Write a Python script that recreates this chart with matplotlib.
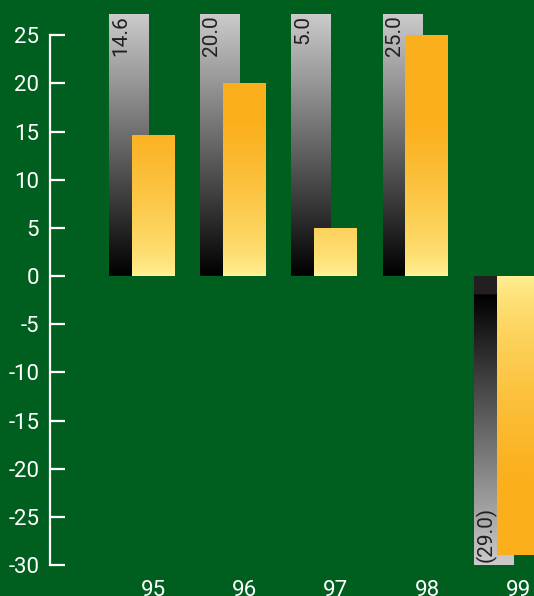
import numpy as np
import matplotlib
matplotlib.use("Agg")
import matplotlib.pyplot as plt
from matplotlib.colors import to_rgb

plt.rcParams['axes.unicode_minus'] = False

# ---- data ----
categories = ["95", "96", "97", "98", "99"]
values = [14.6, 20.0, 5.0, 25.0, -29.0]
yticks = list(range(-30, 26, 5))

# ---- style ----
BG = "#005F1F"
ORANGE = to_rgb("#FBAF1C")
YELLOW = to_rgb("#FFF59B")
LIGHTGRAY = 0.80
YMIN, YMAX = -30, 27.2
XMIN, XMAX = -1.135, 4.175

fig = plt.figure(figsize=(5.34, 5.96), dpi=100)
fig.patch.set_facecolor(BG)
ax = fig.add_axes([50.3 / 534, 31 / 596, 1 - 50.3 / 534, (565 - 14) / 596])
ax.set_facecolor(BG)

x = np.arange(len(categories))
gray_off, gray_w = -0.488, 0.439
org_off, org_w = -0.236, 0.472

# background (gray) bars: from 0 to the axis limit in the sign direction
gray_tops = [YMAX if v >= 0 else YMIN for v in values]
gbars = ax.bar(x + gray_off, gray_tops, width=gray_w, align='edge',
               facecolor='none', edgecolor='none', zorder=2)
obars = ax.bar(x + org_off, values, width=org_w, align='edge',
               facecolor='none', edgecolor='none', zorder=3)

# gradient images in data coordinates
ys = np.linspace(YMAX, YMIN, 800)
g = np.zeros((len(ys), 1, 3))
for i, yv in enumerate(ys):
    if yv >= 0:
        g[i, 0, :] = LIGHTGRAY * yv / YMAX
    elif yv > -1.9:
        g[i, 0, :] = to_rgb("#231F20")
    else:
        g[i, 0, :] = LIGHTGRAY * (abs(yv) - 1.9) / (abs(YMIN) - 1.9)
o = np.zeros((len(ys), 1, 3))
for i, yv in enumerate(ys):
    scale = 16.0 if yv >= 0 else 21.0
    f = min(1.0, abs(yv) / scale) ** 0.6
    o[i, 0, :] = np.array(YELLOW) * (1 - f) + np.array(ORANGE) * f

for p in gbars.patches:
    im = ax.imshow(g, extent=[XMIN, XMAX, YMIN, YMAX], aspect='auto',
                   interpolation='bilinear', zorder=2)
    im.set_clip_path(p)
for p in obars.patches:
    im = ax.imshow(o, extent=[XMIN, XMAX, YMIN, YMAX], aspect='auto',
                   interpolation='bilinear', zorder=3)
    im.set_clip_path(p)

# value labels on gray bars
lab_font = ['Liberation Sans Narrow', 'Roboto', 'DejaVu Sans']
for xi, v in zip(x, values):
    if v >= 0:
        ax.annotate(f"{v:.1f}", xy=(xi + gray_off, YMAX), xytext=(2, -1),
                    textcoords='offset pixels', rotation=90, ha='left', va='top',
                    fontsize=15, color='#231F20', family=lab_font, zorder=4)
    else:
        ax.annotate(f"({abs(v):.1f})", xy=(xi + gray_off, YMIN), xytext=(2, 3),
                    textcoords='offset pixels', rotation=90, ha='left', va='bottom',
                    fontsize=15, color='#231F20', family=lab_font, zorder=4)

ax.set_xlim(XMIN, XMAX)
ax.set_ylim(YMIN, YMAX)

for s in ['top', 'right', 'bottom']:
    ax.spines[s].set_visible(False)
ax.spines['left'].set_color('white')
ax.spines['left'].set_linewidth(1.6)
ax.spines['left'].set_bounds(-30, 25)

ax.set_yticks(yticks)
ax.set_yticklabels([str(t) for t in yticks])
ax.set_xticks(x)
ax.set_xticklabels(categories)
ax.tick_params(axis='y', direction='in', length=11, width=1.6, color='white',
               labelcolor='white', labelsize=16, pad=8)
ax.tick_params(axis='x', length=0, labelcolor='white', labelsize=16, pad=11)
for lbl in ax.get_xticklabels() + ax.get_yticklabels():
    lbl.set_family(['Roboto', 'DejaVu Sans'])

fig.savefig("out.png", dpi=100, facecolor=BG)
